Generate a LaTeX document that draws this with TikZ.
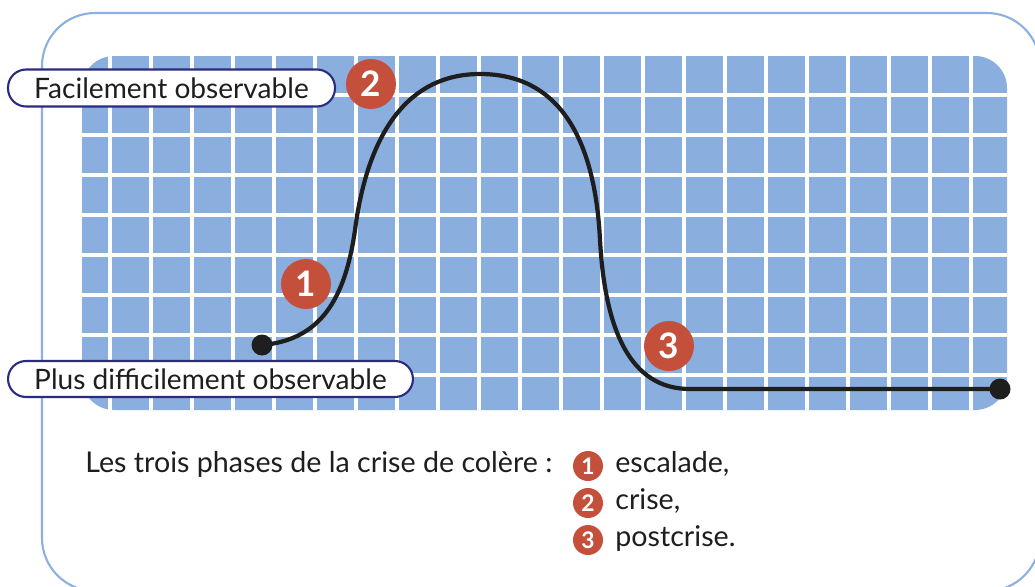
\documentclass[tikz,border=0pt]{standalone}
\usepackage{fontspec}
\setmainfont{Lato}
\usepackage{tikz}

\definecolor{gridblue}{HTML}{8AAEDE}
\definecolor{frameblue}{HTML}{8CB1E1}
\definecolor{badgered}{HTML}{C4503C}
\definecolor{pillnavy}{HTML}{2B2B80}
\definecolor{ink}{HTML}{1E1E1E}

\tikzset{
    pill/.style = {draw = pillnavy, line width = 1.2pt, fill = white, rounded corners = 0.36cm,
        minimum height = 0.74cm, text = ink, font = \fontsize{16}{19}\selectfont},
    badge/.style = {circle, fill = badgered, text = white, minimum size = 1cm, inner sep = 0pt,
        font = \fontsize{20}{22}\selectfont\bfseries},
    minibadge/.style = {circle, fill = badgered, text = white, minimum size = 0.6cm, inner sep = 0pt,
        font = \fontsize{13}{15}\selectfont\bfseries},
    dot/.style = {circle, fill = ink, minimum size = 0.42cm, inner sep = 0pt},
    legend/.style = {anchor = base west, text = ink, inner sep = 0pt, font = \fontsize{16.3}{20}\selectfont}
}

\begin{document}
\begin{tikzpicture}[x = 0.02cm, y = -0.02cm]

    \useasboundingbox (0,0) rectangle (1035,586);

    % Frame
    \draw [frameblue, line width = 1.2pt, rounded corners = 1.06cm] (42,13) rectangle (1040,591);

    % Grid
    \fill [gridblue, rounded corners = 0.64cm] (82,56) rectangle (1007,410);
    \foreach \x in {0,...,21}
        \draw [white, line width = 2.3pt] ({110 + 41*\x}, 56) -- ({110 + 41*\x}, 410);
    \foreach \y in {0,...,7}
        \draw [white, line width = 2.3pt] (82, {95 + 40*\y}) -- (1007, {95 + 40*\y});

    % Labels
    \node [pill, minimum width = 6.54cm] (easy) at (171.5,88) {Facilement observable};
    \node [pill, minimum width = 8.1cm, minimum height = 0.72cm] (hard) at (210.5,379) {Plus difficilement observable};

    % Curve
    \node [dot] (start) at (262,345) {};
    \node [dot] (end) at (1000,389) {};
    \draw [ink, line width = 2.4pt] (start.center)
        .. controls (320,340) and (345,300) .. (355,230)
        .. controls (368,130) and (410,74) .. (480,74)
        .. controls (560,74) and (595,140) .. (600,240)
        .. controls (605,330) and (630,389) .. (690,389)
        -- (end.center);

    % Phases
    \node [badge] (phase1) at (306,284) {1};
    \node [badge] (phase2) at (371,84) {2};
    \node [badge] (phase3) at (669,346) {3};

    % Legend
    \node [legend] (title) at (85,472) {Les trois phases de la crise de colère~:};
    \node [minibadge] (key1) at (588,466) {1};
    \node [legend] (item1) at (615,472) {escalade,};
    \node [minibadge] (key2) at (588,503) {2};
    \node [legend] (item2) at (615,509) {crise,};
    \node [minibadge] (key3) at (588,540) {3};
    \node [legend] (item3) at (615,546) {postcrise.};

\end{tikzpicture}
\end{document}
